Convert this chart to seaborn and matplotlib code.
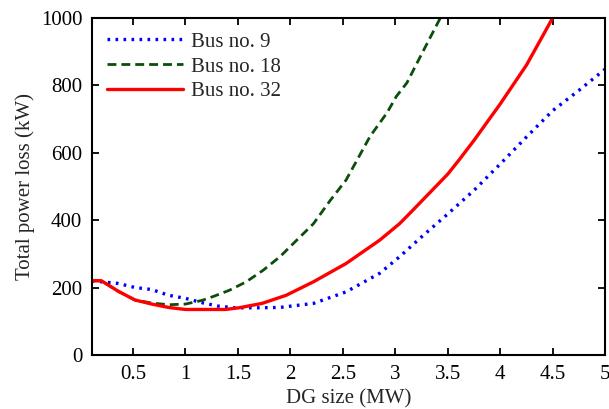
import numpy as np
import pandas as pd
import matplotlib
matplotlib.use("Agg")
import matplotlib.pyplot as plt
import seaborn as sns

# ---- data ----
bus9_x = [0.11, 0.2, 0.36, 0.52, 0.68, 0.84, 1.0, 1.16, 1.31, 1.47, 1.7, 1.9,
          2.22, 2.53, 2.85, 3.04, 3.25, 3.5, 3.75, 4.0, 4.25, 4.5, 4.75, 5.0]
bus9_y = [221, 218, 213, 201, 195, 178, 169, 156, 146, 141, 141, 142,
          154, 188, 243, 292, 351, 419, 489, 567, 647, 725, 785, 848]

bus18_x = [0.11, 0.2, 0.36, 0.52, 0.68, 0.84, 1.0, 1.16, 1.27, 1.42, 1.58, 1.74,
           1.90, 2.06, 2.22, 2.38, 2.53, 2.76, 2.92, 3.01, 3.11, 3.24, 3.43]
bus18_y = [221, 221, 190, 164, 155, 150, 152, 163, 175, 193, 218, 252,
           292, 341, 390, 459, 519, 649, 718, 767, 807, 886, 1000]

bus32_x = [0.11, 0.2, 0.36, 0.52, 0.68, 0.84, 1.0, 1.2, 1.38, 1.51, 1.73, 1.96,
           2.22, 2.53, 2.85, 3.04, 3.17, 3.5, 3.61, 3.75, 4.0, 4.25, 4.5]
bus32_y = [221, 221, 190, 164, 152, 142, 136, 136, 136, 141, 154, 178,
           218, 272, 341, 390, 431, 537, 580, 637, 745, 860, 1000]

labels = ["Bus no. 9", "Bus no. 18", "Bus no. 32"]
x_ticks = [0.5, 1, 1.5, 2, 2.5, 3, 3.5, 4, 4.5, 5]
y_ticks = [0, 200, 400, 600, 800, 1000]

sns.set_style("ticks")
plt.rcParams["font.family"] = ["Liberation Serif", "DejaVu Serif"]
plt.rcParams["font.size"] = 15

fig = plt.figure(figsize=(6.09, 4.09), dpi=100)
ax = fig.add_axes([0.151, 0.131, 0.843, 0.826])

series = [
    (bus9_x, bus9_y, labels[0], "#0000ff", (0, (0.8, 1.6)), 2.4),
    (bus18_x, bus18_y, labels[1], "#0b4d0b", (0, (3.2, 1.8)), 2.0),
    (bus32_x, bus32_y, labels[2], "#ff0000", "-", 2.4),
]
for xs, ys, lab, col, ls, lw in series:
    df = pd.DataFrame({"x": xs, "y": ys})
    sns.lineplot(data=df, x="x", y="y", ax=ax, color=col, linestyle=ls,
                 linewidth=lw, label=lab, sort=False, estimator=None)

ax.set_xlim(0.11, 5.0)
ax.set_ylim(0, 1000)
ax.set_xticks(x_ticks)
ax.set_xticklabels([f"{t:g}" for t in x_ticks])
ax.set_yticks(y_ticks)
ax.set_yticklabels([str(t) for t in y_ticks])
ax.tick_params(direction="in", length=5, width=1.3, top=True, right=True,
               labelsize=15, colors="black", pad=7)
for s in ax.spines.values():
    s.set_visible(True)
    s.set_linewidth(1.5)
    s.set_color("black")

ax.set_xlabel("DG size (MW)", fontsize=15, labelpad=4)
ax.set_ylabel("Total power loss (kW)", fontsize=15, labelpad=4)

leg = ax.legend(loc="upper left", frameon=False, fontsize=15,
                handlelength=3.65, handletextpad=0.4, labelspacing=0.25,
                borderaxespad=0.3, bbox_to_anchor=(0.0, 1.0))

fig.savefig("out.png", dpi=100)
